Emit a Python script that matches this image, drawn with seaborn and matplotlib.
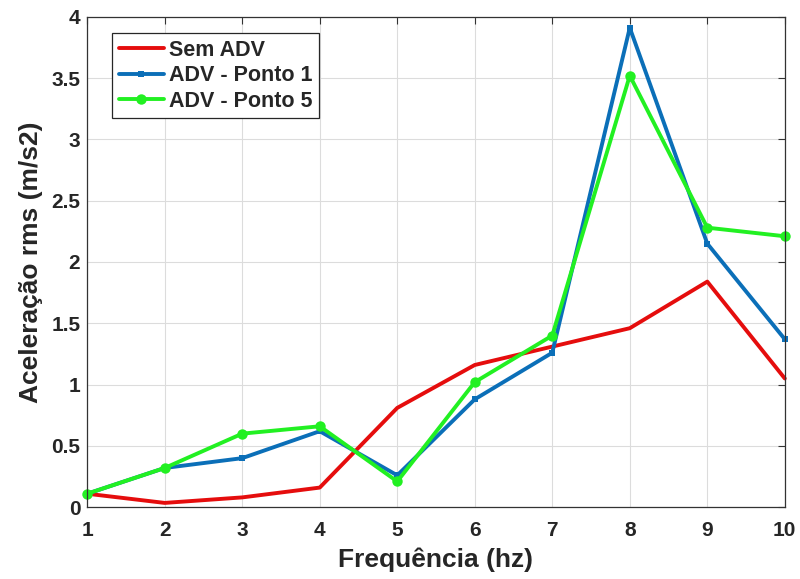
import numpy as np
import pandas as pd
import seaborn as sns
import matplotlib
matplotlib.use("Agg")
import matplotlib.pyplot as plt

frequencia = [1, 2, 3, 4, 5, 6, 7, 8, 9, 10]
sem_adv = [0.11, 0.035, 0.08, 0.16, 0.81, 1.16, 1.31, 1.46, 1.84, 1.05]
adv_ponto1 = [0.11, 0.32, 0.40, 0.62, 0.26, 0.88, 1.26, 3.91, 2.15, 1.37]
adv_ponto5 = [0.11, 0.32, 0.60, 0.66, 0.21, 1.02, 1.40, 3.52, 2.28, 2.21]
series_names = ["Sem ADV", "ADV - Ponto 1", "ADV - Ponto 5"]
x_ticks = [1, 2, 3, 4, 5, 6, 7, 8, 9, 10]
y_ticks = [0, 0.5, 1, 1.5, 2, 2.5, 3, 3.5, 4]
y_tick_labels = ["0", "0.5", "1", "1.5", "2", "2.5", "3", "3.5", "4"]

df = pd.DataFrame({
    "freq": frequencia * 3,
    "acel": sem_adv + adv_ponto1 + adv_ponto5,
    "serie": [series_names[0]] * 10 + [series_names[1]] * 10 + [series_names[2]] * 10,
})

sns.set_style("white")
plt.rcParams["font.family"] = ["Liberation Sans", "DejaVu Sans"]
plt.rcParams["font.weight"] = "bold"

palette = {series_names[0]: "#e50d0d", series_names[1]: "#0b6fb8", series_names[2]: "#22f022"}
markers = {series_names[0]: None, series_names[1]: "s", series_names[2]: "o"}
msizes = {series_names[0]: 0, series_names[1]: 4, series_names[2]: 7.5}

fig = plt.figure(figsize=(8.0, 5.79), dpi=100)
ax = fig.add_axes([0.109, 0.124, 0.872, 0.847])

for name in series_names:
    sub = df[df["serie"] == name]
    sns.lineplot(data=sub, x="freq", y="acel", ax=ax, color=palette[name],
                 marker=markers[name], markersize=msizes[name], markeredgewidth=0,
                 linewidth=2.8, label=name, clip_on=False)

ax.set_xlim(1, 10)
ax.set_ylim(0, 4)
ax.set_xticks(x_ticks)
ax.set_yticks(y_ticks)
ax.set_yticklabels(y_tick_labels)
ax.grid(True, color="#dcdcdc", linewidth=0.8)
ax.tick_params(direction="in", length=5, width=0.8, top=True, right=True,
               labelsize=15, color="#333333", labelcolor="#262626")
ax.tick_params(axis="x", pad=10)
ax.tick_params(axis="y", pad=5)
for lab in ax.get_xticklabels() + ax.get_yticklabels():
    lab.set_fontweight("bold")
for s in ax.spines.values():
    s.set_color("#333333")
    s.set_linewidth(0.9)

ax.set_xlabel("Frequência (hz)", fontsize=19, fontweight="bold", color="#262626", labelpad=5)
ax.set_ylabel("Aceleração rms (m/s2)", fontsize=19, fontweight="bold", color="#262626", labelpad=6)

leg = ax.legend(loc="upper left", bbox_to_anchor=(0.036, 0.966), fontsize=15.5,
                frameon=True, fancybox=False, edgecolor="#262626", framealpha=1,
                handlelength=2.1, handletextpad=0.25, borderpad=0.3, labelspacing=0.2,
                borderaxespad=0)
leg.get_frame().set_linewidth(0.9)
for t in leg.get_texts():
    t.set_fontweight("bold")

fig.savefig("out.png", dpi=100)
